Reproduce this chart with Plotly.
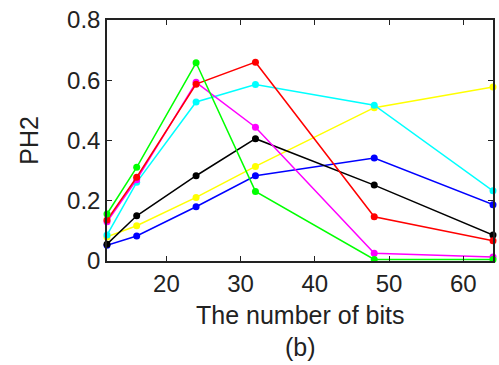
import plotly.graph_objects as go

bits = [12, 16, 24, 32, 48, 64]
yellow = [0.080, 0.117, 0.211, 0.314, 0.509, 0.578]
blue = [0.052, 0.083, 0.180, 0.283, 0.342, 0.187]
black = [0.056, 0.150, 0.283, 0.406, 0.252, 0.086]
cyan = [0.086, 0.261, 0.528, 0.586, 0.517, 0.233]
magenta = [0.130, 0.270, 0.593, 0.444, 0.026, 0.013]
red = [0.136, 0.278, 0.587, 0.660, 0.147, 0.067]
green = [0.156, 0.311, 0.658, 0.231, 0.005, 0.005]

series = [
    ("yellow", yellow, "#ffff00"),
    ("blue", blue, "#0000ff"),
    ("black", black, "#000000"),
    ("cyan", cyan, "#00ffff"),
    ("magenta", magenta, "#ff00ff"),
    ("red", red, "#ff0000"),
    ("green", green, "#00ff00"),
]

fig = go.Figure()
for name, ys, col in series:
    fig.add_trace(go.Scatter(
        x=bits, y=ys, mode="lines+markers", name=name,
        line=dict(color=col, width=1.5),
        marker=dict(color=col, size=7),
        cliponaxis=False,
    ))

font = "Liberation Sans, Arial, sans-serif"
fs = 24
fig.update_layout(
    width=499, height=365,
    margin=dict(l=107, r=4, t=20, b=104),
    paper_bgcolor="white", plot_bgcolor="white",
    showlegend=False,
    font=dict(family=font, size=fs, color="#222222"),
    xaxis=dict(
        range=[12, 64], tickvals=[20, 30, 40, 50, 60],
        showgrid=False, zeroline=False,
        showline=True, linecolor="#222222", linewidth=1.5, mirror="ticks",
        ticks="inside", ticklen=5, tickcolor="#222222",
        tickfont=dict(size=fs),
    ),
    yaxis=dict(
        range=[0, 0.8], tickvals=[0, 0.2, 0.4, 0.6, 0.8],
        ticktext=["0", "0.2", "0.4", "0.6", "0.8"],
        showgrid=False, zeroline=False,
        showline=True, linecolor="#222222", linewidth=1.5, mirror="ticks",
        ticks="inside", ticklen=5, tickcolor="#222222",
        tickfont=dict(size=fs),
    ),
    annotations=[
        dict(text="PH2", xref="paper", yref="paper",
             x=-0.204, y=0.5, xanchor="center", yanchor="middle",
             textangle=-90, showarrow=False, font=dict(size=25)),
        dict(text="The number of bits", xref="paper", yref="paper",
             x=0.5, y=-0.224, xanchor="center", yanchor="middle",
             showarrow=False, font=dict(size=25)),
        dict(text="(b)", xref="paper", yref="paper",
             x=0.5, y=-0.357, xanchor="center", yanchor="middle",
             showarrow=False, font=dict(size=25)),
    ],
)

fig.write_html("out.html")
